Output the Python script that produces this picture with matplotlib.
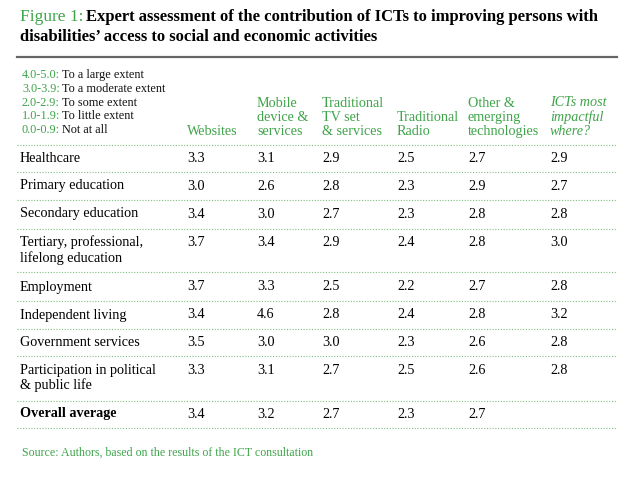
import matplotlib.pyplot as plt
from matplotlib.lines import Line2D

GREEN = "#3fa44a"
plt.rcParams['font.family'] = ['Liberation Serif', 'DejaVu Serif']

legend_ranges = ["4.0-5.0:", "3.0-3.9:", "2.0-2.9:", "1.0-1.9:", "0.0-0.9:"]
legend_labels = ["To a large extent", "To a moderate extent", "To some extent",
                 "To little extent", "Not at all"]
columns = ["Websites", "Mobile\ndevice &\nservices", "Traditional\nTV set\n& services",
           "Traditional\nRadio", "Other &\nemerging\ntechnologies", "ICTs most\nimpactful\nwhere?"]
rows = ["Healthcare", "Primary education", "Secondary education",
        "Tertiary, professional,\nlifelong education", "Employment", "Independent living",
        "Government services", "Participation in political\n& public life", "Overall average"]
values = [
    [3.3, 3.1, 2.9, 2.5, 2.7, 2.9],
    [3.0, 2.6, 2.8, 2.3, 2.9, 2.7],
    [3.4, 3.0, 2.7, 2.3, 2.8, 2.8],
    [3.7, 3.4, 2.9, 2.4, 2.8, 3.0],
    [3.7, 3.3, 2.5, 2.2, 2.7, 2.8],
    [3.4, 4.6, 2.8, 2.4, 2.8, 3.2],
    [3.5, 3.0, 3.0, 2.3, 2.6, 2.8],
    [3.3, 3.1, 2.7, 2.5, 2.6, 2.8],
    [3.4, 3.2, 2.7, 2.3, 2.7, None],
]

W, H = 640, 482
fig = plt.figure(figsize=(W / 100, H / 100), dpi=100)


def T(x, y, s, **kw):
    fig.text(x / W, 1 - y / H, s, **kw)


def hline(y, x0=17, x1=617, **kw):
    fig.add_artist(Line2D([x0 / W, x1 / W], [1 - y / H, 1 - y / H], transform=fig.transFigure, **kw))


# title
T(20, 17, "Figure 1:", color=GREEN, fontsize=12.5, va="center")
T(86, 17, "Expert assessment of the contribution of ICTs to improving persons with",
  fontsize=12, weight="bold", va="center")
T(20, 37, "disabilities\u2019 access to social and economic activities",
  fontsize=12, weight="bold", va="center")
hline(57, color="#666666", lw=1.6)

# legend
for i, (r, lab) in enumerate(zip(legend_ranges, legend_labels)):
    y = 75 + i * 13.8
    T(22, y, r, color=GREEN, fontsize=8.8, va="center")
    T(62, y, lab, fontsize=8.8, va="center", color="#111111")

# header
col_x = [187, 257, 322, 397, 468, 550]
for j, (x, c) in enumerate(zip(col_x, columns)):
    T(x, 138, c, color=GREEN, fontsize=10.2, va="bottom", linespacing=1.1,
      style="italic" if j == 5 else "normal")
hline(145, color="#7fbf7f", lw=0.8, ls=(0, (1, 1.5)))

row_y = [158, 186, 214, 250, 287, 315, 342, 378, 414]
row_sep = [172, 200, 229, 272, 301, 329, 356, 401, 428]
for i, (y, name) in enumerate(zip(row_y, rows)):
    bold = i == len(rows) - 1
    T(20, y, name, fontsize=10.2, va="center", linespacing=1.15,
      weight="bold" if bold else "normal")
    for x, v in zip(col_x, values[i]):
        if v is not None:
            ty = y - 7 if "\n" in name else y
            T(x, ty, f"{v:.1f}", fontsize=10.2, va="center")
    hline(row_sep[i], color="#7fbf7f", lw=0.8, ls=(0, (1, 1.5)))

T(22, 453, "Source: Authors, based on the results of the ICT consultation",
  color=GREEN, fontsize=8.6, va="center")

fig.savefig("out.png", dpi=100, facecolor="white")
